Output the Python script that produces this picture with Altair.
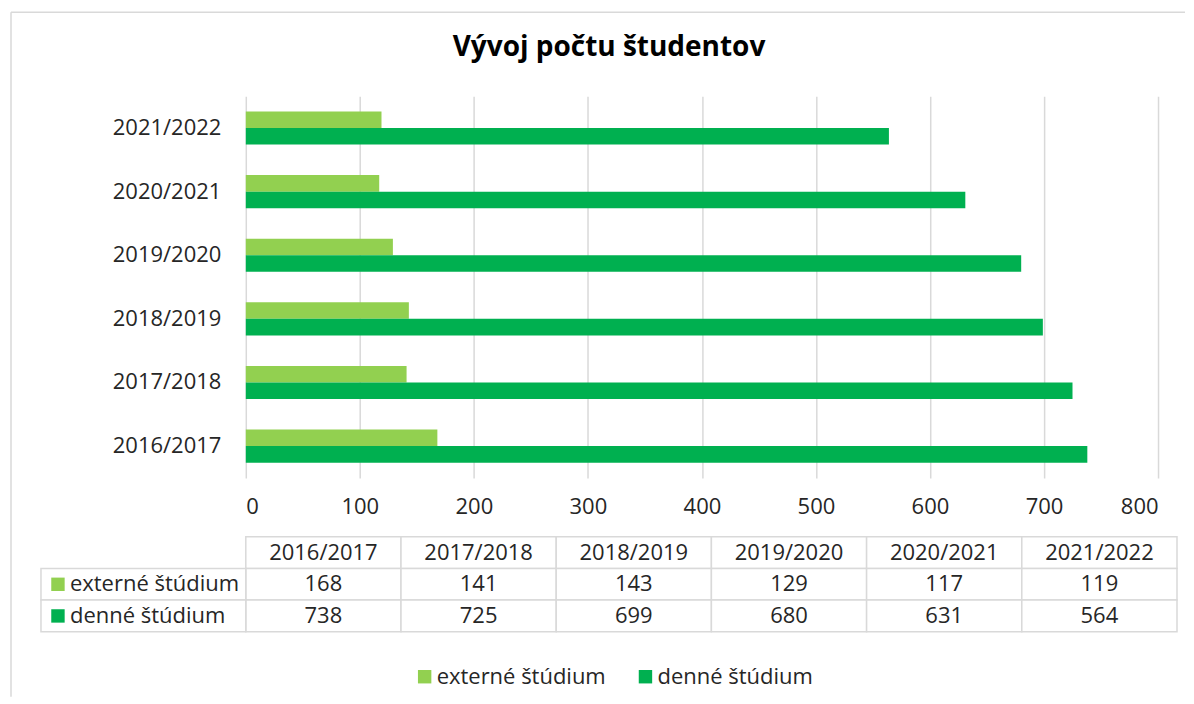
import altair as alt
import pandas as pd

# ---------------- data ----------------
years = ["2016/2017", "2017/2018", "2018/2019", "2019/2020", "2020/2021", "2021/2022"]
externe = [168, 141, 143, 129, 117, 119]
denne = [738, 725, 699, 680, 631, 564]
series = ["externé štúdium", "denné štúdium"]
colors = ["#92D050", "#00B050"]
x_ticks = [0, 100, 200, 300, 400, 500, 600, 700, 800]
chart_title = "Vývoj počtu študentov"
header_key = "header"

FONT = "Open Sans"
TXT = "#262626"
GRID = "#D9D9D9"
FS = 22

rows = []
for i, y in enumerate(years):
    rows.append({"year": y, "series": series[0], "value": externe[i]})
    rows.append({"year": y, "series": series[1], "value": denne[i]})
df = pd.DataFrame(rows)

trows = []
for i, y in enumerate(years):
    trows.append({"year": y, "row": header_key, "text": y})
    trows.append({"year": y, "row": series[0], "text": str(externe[i])})
    trows.append({"year": y, "row": series[1], "text": str(denne[i])})
tdf = pd.DataFrame(trows)
ldf = pd.DataFrame({"row": series})
row_order = [header_key] + series

# ---------------- bar chart ----------------
bars = alt.Chart(df).mark_bar().encode(
    x=alt.X("value:Q",
            scale=alt.Scale(domain=[0, 800], nice=False),
            axis=alt.Axis(values=x_ticks, title=None, grid=True, gridColor=GRID,
                          gridWidth=1.5, domain=False, ticks=False,
                          labelFontSize=FS, labelFont=FONT, labelColor=TXT,
                          labelPadding=19)),
    y=alt.Y("year:N", sort=list(reversed(years)),
            scale=alt.Scale(paddingInner=0.48, paddingOuter=0.24),
            axis=alt.Axis(title=None, domain=False, ticks=False, grid=False,
                          labelFontSize=FS, labelFont=FONT, labelColor=TXT,
                          labelPadding=25)),
    yOffset=alt.YOffset("series:N", sort=series),
    color=alt.Color("series:N", scale=alt.Scale(domain=series, range=colors), legend=None),
)

# chart frame (outer border, only top/left visible in the picture)
frame_df = pd.DataFrame({"edge": ["frame"]})
frame_left = alt.Chart(frame_df).mark_rule(color=GRID, strokeWidth=1.5).encode(
    x=alt.value(-235), y=alt.value(-84), y2=alt.value(601))
frame_top = alt.Chart(frame_df).mark_rule(color=GRID, strokeWidth=1.5).encode(
    x=alt.value(-235), x2=alt.value(940), y=alt.value(-84))

top_panel = alt.layer(bars, frame_left, frame_top).properties(width=913, height=382)

# ---------------- data table ----------------
xs = alt.X("year:N", sort=years, axis=None,
           scale=alt.Scale(paddingInner=0, paddingOuter=0))
ys = alt.Y("row:N", sort=row_order, axis=None,
           scale=alt.Scale(domain=row_order, paddingInner=0, paddingOuter=0))

cells = alt.Chart(tdf).mark_rect(fill="white", stroke=GRID, strokeWidth=1.5).encode(x=xs, y=ys)
cell_text = alt.Chart(tdf).mark_text(fontSize=FS, font=FONT, color=TXT).encode(
    x=xs, y=ys, text="text:N")

lab_cells = alt.Chart(ldf).mark_rect(fill="white", stroke=GRID, strokeWidth=1.5).encode(
    x=alt.value(-205), x2=alt.value(0), y=ys)
lab_sq = alt.Chart(ldf).mark_square(size=180, opacity=1, filled=True).encode(
    x=alt.value(-188), y=ys,
    color=alt.Color("row:N", scale=alt.Scale(domain=series, range=colors),
                    legend=alt.Legend(orient="none", legendX=168, legendY=129,
                                      direction="horizontal", title=None,
                                      padding=0,
                                      symbolType="square", symbolSize=180,
                                      symbolStrokeWidth=0, symbolOpacity=1,
                                      labelFontSize=FS, labelFont=FONT,
                                      labelColor=TXT, columnPadding=28,
                                      labelOffset=1, labelLimit=400)))
lab_txt = alt.Chart(ldf).mark_text(align="left", fontSize=FS, font=FONT, color=TXT).encode(
    x=alt.value(-176), y=ys, text="row:N")

table = alt.layer(cells, cell_text, lab_cells, lab_sq, lab_txt).properties(width=932, height=95)

chart = alt.vconcat(top_panel, table, spacing=59, bounds="flush").resolve_scale(
    color="independent"
).properties(
    title=alt.Title(chart_title, fontSize=28, font=FONT, fontWeight="bold",
                    color="#000000", anchor="middle", offset=0, dx=11, dy=50),
    padding={"left": 2, "top": 3, "right": 0, "bottom": 0},
).configure_view(stroke=None)

chart.save("out.html", embed_options={"renderer": "svg", "actions": False})
